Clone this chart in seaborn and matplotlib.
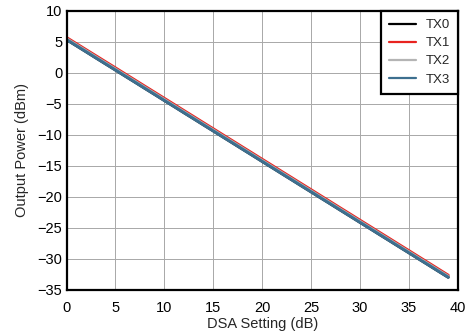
import matplotlib
matplotlib.use("Agg")
import matplotlib.pyplot as plt
import seaborn as sns
import pandas as pd

dsa = list(range(40))
tx0 = [5.40, 4.42, 3.44, 2.45, 1.47, 0.49, -0.50, -1.48, -2.47, -3.45,
       -4.44, -5.42, -6.41, -7.39, -8.38, -9.36, -10.35, -11.33, -12.32, -13.30,
       -14.29, -15.27, -16.26, -17.24, -18.23, -19.21, -20.20, -21.18, -22.17, -23.15,
       -24.14, -25.12, -26.11, -27.09, -28.08, -29.06, -30.05, -31.03, -32.02, -33.00]
tx1 = [5.70, 4.72, 3.74, 2.76, 1.78, 0.80, -0.19, -1.17, -2.16, -3.14,
       -4.13, -5.11, -6.10, -7.08, -8.07, -9.05, -10.04, -11.02, -12.01, -12.99,
       -13.98, -14.96, -15.95, -16.93, -17.92, -18.90, -19.89, -20.87, -21.86, -22.84,
       -23.83, -24.81, -25.80, -26.78, -27.77, -28.75, -29.74, -30.72, -31.71, -32.70]
tx2 = [5.52, 4.54, 3.56, 2.57, 1.59, 0.61, -0.38, -1.36, -2.35, -3.33,
       -4.32, -5.30, -6.29, -7.27, -8.26, -9.24, -10.23, -11.21, -12.20, -13.18,
       -14.17, -15.15, -16.14, -17.12, -18.11, -19.09, -20.08, -21.06, -22.05, -23.03,
       -24.02, -25.00, -25.99, -26.97, -27.96, -28.94, -29.93, -30.91, -31.90, -32.88]
tx3 = [5.38, 4.40, 3.42, 2.43, 1.45, 0.47, -0.52, -1.50, -2.49, -3.47,
       -4.46, -5.44, -6.43, -7.41, -8.40, -9.38, -10.37, -11.35, -12.34, -13.32,
       -14.31, -15.29, -16.28, -17.26, -18.25, -19.23, -20.22, -21.20, -22.19, -23.17,
       -24.16, -25.14, -26.13, -27.11, -28.10, -29.08, -30.07, -31.05, -32.04, -33.02]
series = ["TX0", "TX1", "TX2", "TX3"]
colors = ["#000000", "#e8231f", "#b4b4b4", "#3d6f8f"]

df = pd.concat([
    pd.DataFrame({"DSA": dsa, "P": v, "Ch": name})
    for name, v in zip(series, [tx0, tx1, tx2, tx3])
])

sns.set_style("white")
plt.rcParams["font.family"] = ["Liberation Sans", "DejaVu Sans"]

fig = plt.figure(figsize=(4.65, 3.33), dpi=100)
ax = fig.add_axes([66.5 / 465, 1 - 289.5 / 333, (458 - 66.5) / 465, (289.5 - 11) / 333])

sns.lineplot(data=df, x="DSA", y="P", hue="Ch", palette=colors, hue_order=series,
             linewidth=2.2, ax=ax, legend=True)

ax.set_xlim(0, 40)
ax.set_ylim(-35, 10)
ax.set_xticks(range(0, 41, 5))
ax.set_yticks(range(-35, 11, 5))
ax.grid(True, color="#a8a8a8", linewidth=0.7)
ax.set_axisbelow(True)
for s in ax.spines.values():
    s.set_color("black")
    s.set_linewidth(1.6)
ax.tick_params(axis="both", labelsize=10.5, length=0, pad=3, colors="black")
ax.tick_params(axis="x", pad=8)
ax.set_xlabel("DSA Setting (dB)", fontsize=10.5, labelpad=2)
ax.set_ylabel("Output Power (dBm)", fontsize=10.5, labelpad=6)

leg = ax.legend(loc="upper right", frameon=True, fancybox=False, fontsize=9.5,
                handlelength=2.1, borderaxespad=0, borderpad=0.6, labelspacing=0.45,
                handletextpad=0.7)
frame = leg.get_frame()
frame.set_edgecolor("black")
frame.set_linewidth(1.6)
frame.set_facecolor("white")
frame.set_alpha(1)
for h in leg.get_lines():
    h.set_linewidth(1.6)

fig.savefig("out.png", dpi=100)
